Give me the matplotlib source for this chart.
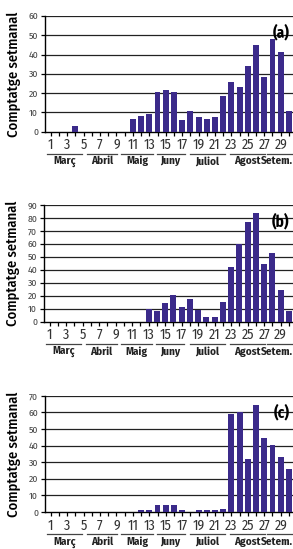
import matplotlib
matplotlib.use('Agg')
import matplotlib.pyplot as plt

plt.rcParams['font.family'] = ['Fira Sans Condensed', 'DejaVu Sans']

setmanes = list(range(1, 31))

# Comptatges setmanals llegits de la figura
valors_a = [0, 0, 0, 3, 0, 0, 0, 0, 0, 0, 6.5, 8, 9, 20.5, 21.5, 20.5, 6, 11, 7.5, 6.5,
            7.5, 18.5, 25.8, 23.2, 34, 45, 28.4, 48, 41.3, 10.7]
valors_b = [0, 0, 0, 0, 0, 0, 0, 0, 0, 0, 0, 0, 9.5, 8.2, 14.4, 20.6, 11.3, 17.5, 9.3, 3.6,
            3.6, 15.2, 42.2, 59.6, 76.9, 83.8, 44.5, 53, 24.4, 8.2]
valors_c = [0, 0, 0, 0, 0, 0, 0, 0, 0, 0, 0, 1.2, 1.2, 4.2, 4.2, 4.2, 1.2, 0, 1.2, 1.2,
            1.2, 1.8, 58.9, 60.1, 31.9, 64.3, 44.5, 40.3, 33, 25.8]

mesos = ['Març', 'Abril', 'Maig', 'Juny', 'Juliol', 'Agost', 'Setem.']
# límits (en setmanes) de la línia de cada mes i centre de l'etiqueta
limits_mesos = [(0.5, 4.85), (5.4, 9.1), (9.6, 13.4), (13.9, 17.3), (17.95, 22.2),
                (22.8, 27.1), (27.3, 30.6)]
centres_mesos = [2.7, 7.25, 11.5, 15.6, 20.1, 24.95, 28.6]

panells = [
    ('(a)', valors_a, 60, [0.1536, 0.760, 0.8464, 0.211]),
    ('(b)', valors_b, 90, [0.150, 0.414, 0.850, 0.2126]),
    ('(c)', valors_c, 70, [0.1536, 0.0674, 0.8464, 0.2118]),
]

color_barra = '#3b2a8a'
fig = plt.figure(figsize=(2.93, 5.49), dpi=100)

for lletra, valors, ymax, pos in panells:
    ax = fig.add_axes(pos)
    ax.bar(setmanes, valors, width=0.72, color=color_barra, zorder=3)
    ax.set_xlim(0.3, 30.5)
    ax.set_ylim(0, ymax)
    ax.set_yticks(range(0, ymax + 1, 10))
    for y in range(10, ymax + 1, 10):
        ax.axhline(y, color='#222222', lw=0.9, zorder=1)
    ax.set_xticks(setmanes, minor=True)
    ax.set_xticks(setmanes[::2])
    ax.set_xticklabels([str(s) for s in setmanes[::2]], fontsize=10, color='#333333')
    ax.tick_params(axis='x', which='both', length=3, width=0.9, direction='out', pad=1.5)
    ax.tick_params(axis='y', length=3, width=0.9, labelsize=7, labelcolor='#444444', pad=2)
    for s in ['top', 'right']:
        ax.spines[s].set_visible(False)
    ax.spines['left'].set_linewidth(1.0)
    ax.spines['bottom'].set_linewidth(1.0)
    ax.text(0.985, 0.93, lletra, transform=ax.transAxes, ha='right', va='top',
            fontsize=11, fontweight='bold')
    ax.set_ylabel('Comptatge setmanal', fontsize=10.5, fontweight='medium', labelpad=5)
    tr = ax.get_xaxis_transform()
    for mes, (x0, x1), xc in zip(mesos, limits_mesos, centres_mesos):
        ax.plot([x0, x1], [-0.19, -0.19], transform=tr, color='#444444', lw=0.9,
                clip_on=False)
        ax.text(xc, -0.21, mes, transform=tr, ha='center', va='top',
                fontsize=8, fontweight='bold', color='#222222')

fig.savefig('out.png', dpi=100)
